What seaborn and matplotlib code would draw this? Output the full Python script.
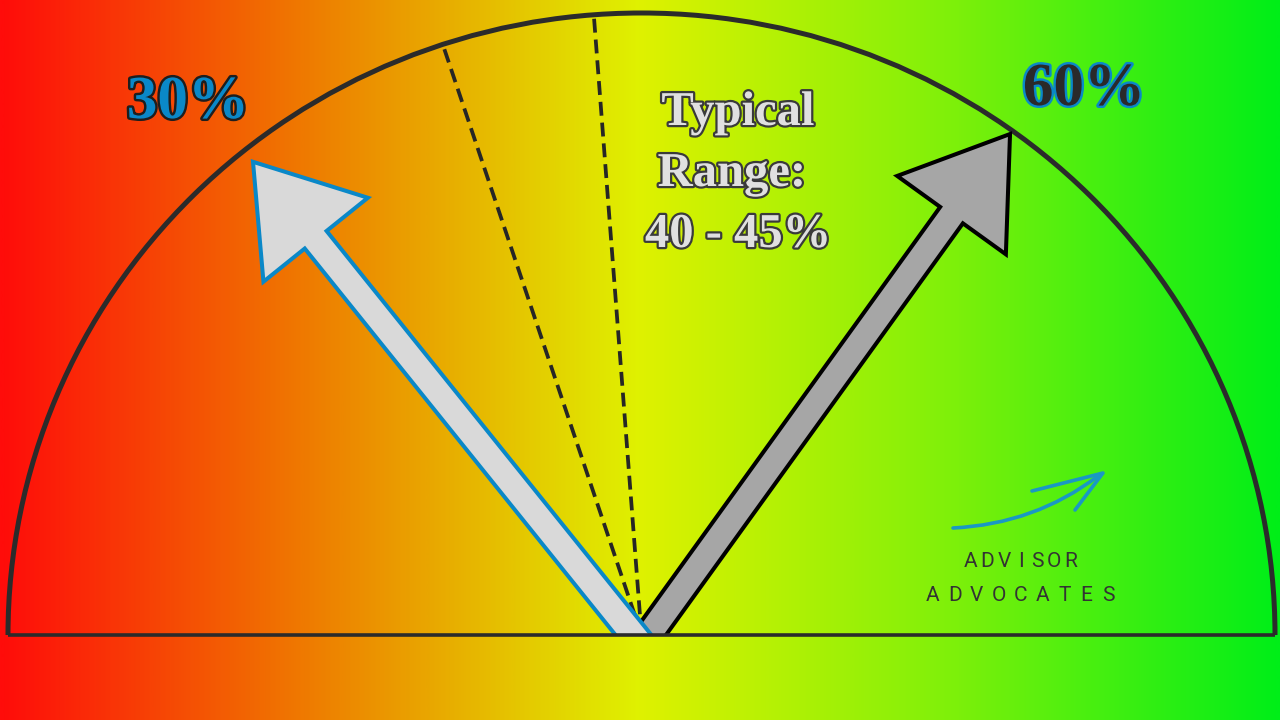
import numpy as np
import matplotlib
matplotlib.use("Agg")
import matplotlib.pyplot as plt
import matplotlib.patches as mpatches
import matplotlib.patheffects as pe
from matplotlib.path import Path
import seaborn as sns

# ---------------- data ----------------
gradient_colors = ["#ff0c0a", "#ee8000", "#dff200", "#7cf00a", "#00ee18"]
needle_labels = ["30%", "60%"]
needle_angles = [51.2, 125.8]      # degrees, measured from the left end of the dial
range_angles = [71.4, 85.6]        # bounds of the typical range (dashed lines)
range_text = ["Typical", "Range: ", "40 - 45%"]
brand_lines = ["ADVISOR", "ADVOCATES"]

# ---------------- style ----------------
sns.set_theme(style="white")
plt.rcParams["font.family"] = ["Liberation Serif", "DejaVu Serif"]
plt.rcParams["lines.scale_dashes"] = False

W, H = 1280, 720
fig = plt.figure(figsize=(12.8, 7.2), dpi=100)
ax = fig.add_axes([0, 0, 1, 1])
ax.set_xlim(0, W)
ax.set_ylim(H, 0)
ax.axis("off")

# background gradient
cmap = sns.blend_palette(gradient_colors, n_colors=256, as_cmap=True)
ax.imshow(np.linspace(0, 1, 512)[None, :], extent=[0, W, H, 0], cmap=cmap,
          aspect="auto", interpolation="bilinear", zorder=0)

cx, cy, rx, ry = 641.5, 635, 633.5, 622


def rim(a):
    r = np.deg2rad(a)
    c, s = np.cos(r), np.sin(r)
    t = 1 / np.sqrt((c / rx) ** 2 + (s / ry) ** 2)
    return cx - t * c, cy - t * s


# dashed range lines
for a in range_angles:
    x1, y1 = rim(a)
    ax.plot([cx, x1], [cy, y1], color="#262626", lw=2.7, dashes=(10, 5),
            dash_capstyle="butt", zorder=2)

# dial outline
ax.add_patch(mpatches.Arc((cx, cy), 2 * rx, 2 * ry, theta1=180, theta2=360,
                          lw=3.6, color="#2b2b2b", zorder=4))

# needles
pivot = (cx, cy + 10)
needle_len = [620, 630]
faces = ["#d9d9d9", "#a6a6a6"]
edges = ["#0a88c8", "#000000"]
clip = mpatches.Rectangle((0, 0), W, cy, transform=ax.transData)
for i in [1, 0]:
    a = np.deg2rad(needle_angles[i])
    L = needle_len[i]
    arr = mpatches.FancyArrow(pivot[0], pivot[1], -np.cos(a) * L, -np.sin(a) * L,
                              width=28, head_width=134, head_length=100,
                              length_includes_head=True, fc=faces[i], ec=edges[i],
                              lw=2.9, joinstyle="miter", zorder=5)
    ax.add_patch(arr)
    arr.set_clip_path(clip)

# baseline
ax.plot([cx - rx, cx + rx], [cy, cy], color="#2b2b2b", lw=2.6, zorder=6,
        solid_capstyle="butt")

# needle labels
label_pos = [(188, 118), (1084, 105)]
label_fill = ["#0a88c8", "#2a2a2a"]
label_edge = ["#1e1e1e", "#0a88c8"]
for lab, (x, y), fc, ec in zip(needle_labels, label_pos, label_fill, label_edge):
    ax.text(x, y, lab, fontsize=44, fontweight="bold", color=fc, ha="center",
            va="baseline", zorder=7,
            path_effects=[pe.withStroke(linewidth=3.5, foreground=ec)])

# typical range text
for k, line in enumerate(range_text):
    ax.text(738, 125 + 61 * k, line, fontsize=35, fontweight="bold",
            color="#e0e0e0", ha="center", va="baseline", zorder=7,
            path_effects=[pe.withStroke(linewidth=3.2, foreground="#3a3a3a")])

# logo swoosh
swoosh = Path([(953, 528), (1035, 524), (1098, 476)], [Path.MOVETO, Path.CURVE3, Path.CURVE3])
ax.add_patch(mpatches.PathPatch(swoosh, fc="none", ec="#1a98c4", lw=2.6,
                                capstyle="round", zorder=7))
barbs = Path([(1032, 491), (1103, 473), (1075, 510)],
             [Path.MOVETO, Path.LINETO, Path.LINETO])
ax.add_patch(mpatches.PathPatch(barbs, fc="none", ec="#1a98c4", lw=2.6,
                                capstyle="round", joinstyle="round", zorder=7))

# logo words, letter-spaced
brand_layout = [(1021, 567, 16.7), (1020.5, 601, 21.9)]
for word, (xc, yb, pitch) in zip(brand_lines, brand_layout):
    n = len(word)
    for j, ch in enumerate(word):
        ax.text(xc + (j - (n - 1) / 2) * pitch, yb, ch, fontsize=15,
                family=["Roboto", "DejaVu Sans"], color="#333333",
                ha="center", va="baseline", zorder=7)

fig.savefig("out.png", dpi=100)
